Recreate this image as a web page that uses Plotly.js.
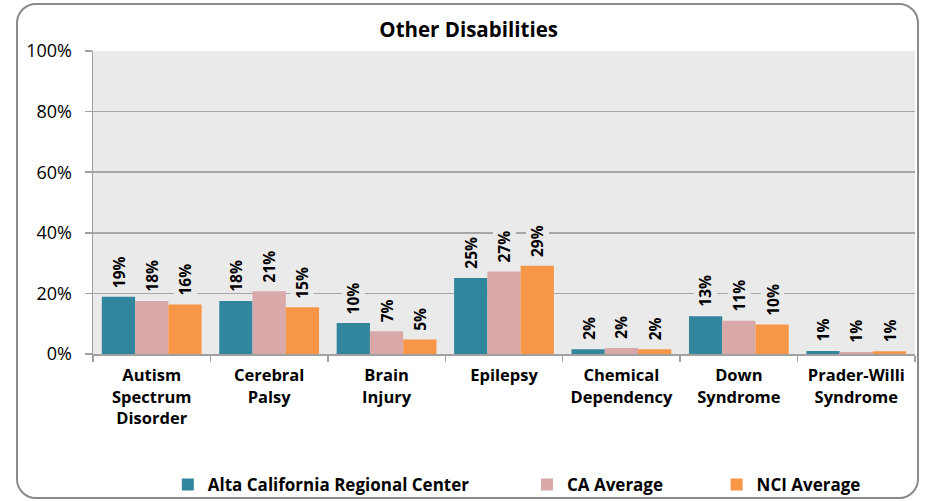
<!DOCTYPE html>
<html>
<head>
<meta charset="utf-8">
<script src="https://cdn.plot.ly/plotly-3.0.1.min.js"></script>
<style>
  html, body { margin: 0; padding: 0; background: #fff; }
  #wrap { position: relative; width: 928px; height: 501px; }
  #chart { width: 928px; height: 501px; }
  #frame { position: absolute; left: 16px; top: 3px; width: 899px; height: 492px;
           border: 2px solid #8a8a8a; border-radius: 20px; pointer-events: none; }
</style>
</head>
<body>
<div id="wrap">
  <div id="chart"></div>
  <div id="frame"></div>
</div>
<script>
const categories = [
  "Autism<br>Spectrum<br>Disorder",
  "Cerebral<br>Palsy",
  "Brain<br>Injury",
  "Epilepsy",
  "Chemical<br>Dependency",
  "Down<br>Syndrome",
  "Prader-Willi<br>Syndrome"
];
const seriesNames = ["Alta California Regional Center", "CA Average", "NCI Average"];
const altaValues = [18.9, 17.5, 10.2, 25.1, 1.6, 12.5, 1.0];
const caValues   = [17.5, 20.7, 7.5, 27.2, 2.0, 11.0, 0.7];
const nciValues  = [16.3, 15.4, 4.8, 29.1, 1.6, 9.7, 0.9];
const altaLabels = ["19%", "18%", "10%", "25%", "2%", "13%", "1%"];
const caLabels   = ["18%", "21%", "7%", "27%", "2%", "11%", "1%"];
const nciLabels  = ["16%", "15%", "5%", "29%", "2%", "10%", "1%"];
const colors = ["#31859C", "#D9A8A8", "#F79646"];

const allValues = [altaValues, caValues, nciValues];
const allLabels = [altaLabels, caLabels, nciLabels];

const bargap = 0.15;
const barW = (1 - bargap) / 3;
const FONT = "'Open Sans', 'DejaVu Sans', sans-serif";
const pads = [12, 11, 0];

const traces = allValues.map((vals, j) => ({
  type: "bar",
  name: seriesNames[j] + "\u00A0".repeat(pads[j]),
  x: categories,
  y: vals.map(v => v / 100),
  marker: { color: colors[j], line: { width: 0 } },
  hoverinfo: "skip"
}));

const annotations = [];
allValues.forEach((vals, j) => {
  vals.forEach((v, i) => {
    annotations.push({
      xref: "x", yref: "y",
      x: i + (j - 1) * barW,
      y: v / 100,
      yshift: 8,
      text: allLabels[j][i],
      textangle: -90,
      showarrow: false,
      xanchor: "center", yanchor: "bottom",
      bgcolor: "#EAEAEA",
      borderpad: 0,
      font: { family: FONT, size: 15.5, color: "#000", weight: "bold" }
    });
  });
});

const layout = {
  width: 928, height: 501,
  margin: { l: 93, r: 13, t: 51, b: 147, autoexpand: false },
  paper_bgcolor: "#ffffff",
  plot_bgcolor: "#EAEAEA",
  font: { family: FONT, color: "#000" },
  title: {
    text: "<b>Other Disabilities</b>",
    x: 0.505, xanchor: "center",
    y: 0.94, yanchor: "middle",
    font: { size: 20.5, color: "#000" }
  },
  barmode: "group",
  bargap: bargap,
  bargroupgap: 0,
  xaxis: {
    type: "category",
    tickfont: { size: 16.5, color: "#000", weight: "bold" },
    tickson: "boundaries",
    ticks: "outside", ticklen: 6, tickcolor: "#A0A0A0", tickwidth: 1.5,
    ticklabelstandoff: 6,
    showline: true, linecolor: "#A0A0A0", linewidth: 1.5,
    showgrid: false, zeroline: false,
    fixedrange: true
  },
  yaxis: {
    range: [0, 1],
    tickvals: [0, 0.2, 0.4, 0.6, 0.8, 1],
    ticktext: ["0%", "20%", "40%", "60%", "80%", "100%"],
    tickfont: { size: 18, color: "#000" },
    ticks: "outside", ticklen: 7, tickcolor: "#A0A0A0", tickwidth: 1.5,
    ticklabelstandoff: 9,
    showline: true, linecolor: "#A0A0A0", linewidth: 1.5,
    showgrid: true, gridcolor: "#A6A6A6", gridwidth: 1.5,
    zeroline: false,
    fixedrange: true
  },
  legend: {
    orientation: "h",
    x: 0.091, xanchor: "left",
    y: -0.432, yanchor: "middle",
    font: { size: 17, color: "#000", weight: "bold" },
    bgcolor: "rgba(0,0,0,0)"
  },
  annotations: annotations,
  showlegend: true
};

Plotly.newPlot("chart", traces, layout, { displayModeBar: false, staticPlot: true });
</script>
</body>
</html>
